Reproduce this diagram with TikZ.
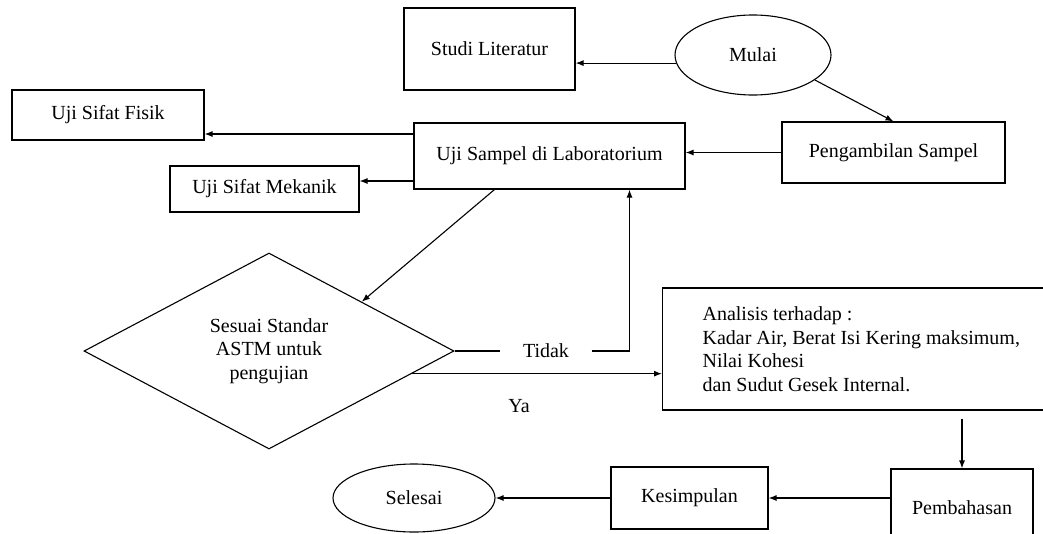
\documentclass[tikz,border=0pt]{standalone}
\usepackage{fontspec}
\setmainfont{Liberation Serif}
\usetikzlibrary{arrows.meta,shapes.geometric,calc}
\tikzset{>={Latex[width=6pt,length=8pt]}}
\tikzset{
  procbox/.style={draw, rectangle, inner sep=0pt},
  termnode/.style={draw, ellipse, inner sep=0pt},
  decbox/.style={draw, diamond, inner sep=0pt, align=center},
}

\begin{document}
\begin{tikzpicture}[x=1pt, y=-1pt, line width=1.1pt, font=\fontsize{20}{23.5}\selectfont]
  \useasboundingbox (0,0) rectangle (1043,533);

  % top row
  \node[termnode, minimum width=156pt, minimum height=80pt] (mulai) at (753,55) {Mulai};
  \node[procbox, minimum width=171pt, minimum height=82pt] (studi) at (489.5,49) {Studi Literatur};
  \node[procbox, minimum width=223pt, minimum height=61pt] (ambil) at (893.5,152.5) {Pengambilan Sampel};
  \node[procbox, minimum width=271pt, minimum height=66pt] (ujilab) at (549.5,156) {Uji Sampel di Laboratorium};
  \node[procbox, minimum width=192pt, minimum height=50pt] (fisik) at (108,115) {Uji Sifat Fisik};
  \node[procbox, minimum width=189pt, minimum height=46pt] (mekanik) at (264.5,189) {Uji Sifat Mekanik};

  % decision
  \node[decbox, minimum width=370pt, minimum height=196pt, aspect=1.89] (cek) at (269,351)
    {Sesuai Standar\\ASTM untuk\\pengujian};
  \node[inner xsep=22pt, inner ysep=2pt] (tidak) at (546,351) {Tidak};
  \node (ya) at (519,406) {Ya};

  \node[procbox, anchor=west, align=left, inner xsep=40pt, minimum height=122pt] (analisis) at (662,349)
    {Analisis terhadap :\\Kadar Air, Berat Isi Kering maksimum,\\Nilai Kohesi\\dan Sudut Gesek Internal.};

  % bottom row
  \node[procbox, minimum width=142pt, minimum height=78pt] (bahas) at (962,508) {Pembahasan};
  \node[procbox, minimum width=157pt, minimum height=62pt] (simpul) at (689.5,498) {Kesimpulan};
  \node[termnode, minimum width=162pt, minimum height=68pt] (selesai) at (414,498) {Selesai};

  \draw[->] (mulai.186) -- (mulai.186 -| studi.east);
  \draw[->] (mulai.-22) -- (ambil.north);
  \draw[->] (ambil.west) -- (ambil.west -| ujilab.east);
  \draw[->] ([yshift=22pt]ujilab.west) coordinate (f0) -- (f0 -| fisik.east);
  \draw[->] ([yshift=-25pt]ujilab.west) coordinate (m0) -- (m0 -| mekanik.east);
  \draw[->] ([xshift=-55pt]ujilab.south) -- (cek.north east);

  \draw (cek.east) -- (tidak.west);
  \draw[->] (tidak.east) -| ([xshift=80pt]ujilab.south);
  \coordinate (y0) at ($(cek.east)!0.23!(cek.south)$);
  \draw[->] (y0) -- (y0 -| analisis.west);

  \draw[->] ([yshift=-8pt]analisis.south -| bahas.north) -- (bahas.north);
  \draw[->] (bahas.west |- simpul.east) -- (simpul.east);
  \draw[->] (simpul.west) -- (selesai.east);
\end{tikzpicture}
\end{document}
